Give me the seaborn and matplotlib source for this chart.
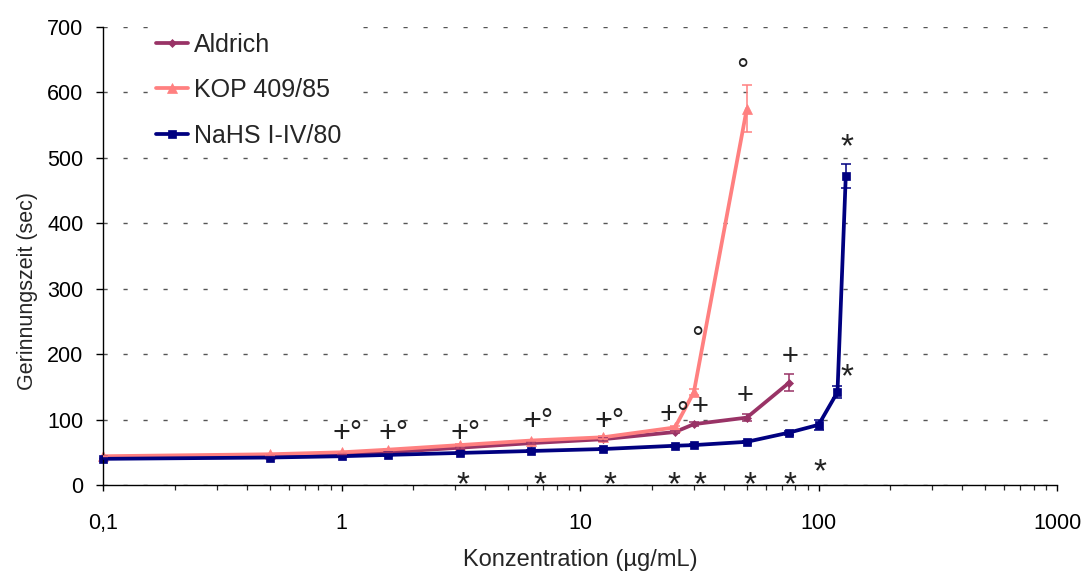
import matplotlib
matplotlib.use("Agg")
import matplotlib.pyplot as plt
from matplotlib.ticker import FixedLocator, FixedFormatter, LogLocator, NullFormatter
from matplotlib.transforms import ScaledTranslation
import pandas as pd
import seaborn as sns

# Concentrations (µg/mL), clotting times (sec) and standard errors per preparation
conc_aldrich = [0.1, 0.5, 1, 1.5625, 3.125, 6.25, 12.5, 25, 30, 50, 75]
time_aldrich = [42, 44, 47, 50, 57, 64, 70, 81, 93, 103, 156]
err_aldrich = [1, 1, 1, 1, 1.5, 1.5, 2, 2, 3, 5, 13]

conc_kop = [0.1, 0.5, 1, 1.5625, 3.125, 6.25, 12.5, 25, 30, 50]
time_kop = [44, 47, 50, 54, 61, 68, 73, 88, 142, 575]
err_kop = [1, 1, 1, 1, 1.5, 1.5, 2, 2, 4, 36]

conc_nahs = [0.1, 0.5, 1, 1.5625, 3.125, 6.25, 12.5, 25, 30, 50, 75, 100, 120, 130]
time_nahs = [40, 42, 44, 46, 49, 52, 55, 60, 61, 66, 80, 92, 142, 472]
err_nahs = [1, 1, 1, 1, 1, 1, 1.5, 1.5, 2, 2, 3, 8, 9, 18]

series_names = ["Aldrich", "KOP 409/85", "NaHS I-IV/80"]
series_colors = ["#993366", "#FF8080", "#000080"]
series_markers = ["D", "^", "s"]
series_msize = [4.5, 6.5, 6]

y_ticks = [0, 100, 200, 300, 400, 500, 600, 700]
x_ticks = [0.1, 1, 10, 100, 1000]
x_tick_labels = ["0,1", "1", "10", "100", "1000"]

# Significance marks, placed by the centre of their first sign (concentration, sec)
pair_conc = [1.0, 1.56, 3.12, 6.32, 12.55, 23.5]
pair_time = [81.5, 81, 81, 99.4, 99.4, 110]

plus_conc = [32.0, 49.4, 76.3]
plus_time = [122, 139, 199]

ring_conc = [31.1, 48.0]
ring_time = [236.2, 646.8]

star_conc = [3.23, 6.77, 13.3, 24.8, 31.7, 51.4, 75.8, 101.8, 132.1, 132.1]
star_time = [10.2, 10.2, 10.2, 10.2, 10.2, 10.2, 10.2, 29, 174.8, 526.5]

sns.set_style("ticks")
plt.rcParams["font.family"] = ["Liberation Sans", "DejaVu Sans"]

frames = []
for name, c, t in zip(series_names,
                      [conc_aldrich, conc_kop, conc_nahs],
                      [time_aldrich, time_kop, time_nahs]):
    frames.append(pd.DataFrame({"Konzentration": c, "Zeit": t, "Präparat": name}))
df = pd.concat(frames, ignore_index=True)

fig = plt.figure(figsize=(10.87, 5.71), dpi=100)
ax = fig.add_axes([0.0948, 0.1506, 0.8777, 0.8021])

sns.lineplot(data=df, x="Konzentration", y="Zeit", hue="Präparat", style="Präparat",
             hue_order=series_names, style_order=series_names,
             palette=dict(zip(series_names, series_colors)),
             markers=dict(zip(series_names, series_markers)), dashes=False,
             linewidth=2.7, markersize=6, errorbar=None, ax=ax, clip_on=False)

data_lines = list(ax.lines[:3])
for line, col, ms in zip(data_lines, series_colors, series_msize):
    line.set_markeredgecolor(col)
    line.set_markerfacecolor(col)
    line.set_markersize(ms)
    line.set_markeredgewidth(0.5)
    line.set_clip_on(False)

for c, t, e, col in zip([conc_aldrich, conc_kop, conc_nahs],
                        [time_aldrich, time_kop, time_nahs],
                        [err_aldrich, err_kop, err_nahs], series_colors):
    ax.errorbar(c, t, yerr=e, fmt="none", ecolor=col, elinewidth=1.1,
                capsize=3.5, capthick=1.1, zorder=3)


def draw_signs(sign, xs, ys, size, left_em, centre_em):
    # move the text so that its first glyph is centred on (x, y)
    shift = ScaledTranslation(-left_em * size / 72.0, -centre_em * size / 72.0,
                              fig.dpi_scale_trans)
    for xv, yv in zip(xs, ys):
        ax.text(xv, yv, sign, ha="left", va="baseline", fontsize=size,
                color="#222222", clip_on=False, transform=ax.transData + shift)


draw_signs("+°", pair_conc, pair_time, 22, 0.292, 0.34)
draw_signs("+", plus_conc, plus_time, 21, 0.292, 0.34)
draw_signs("°", ring_conc, ring_time, 22, 0.2, 0.59)
draw_signs("*", star_conc, star_time, 24, 0.195, 0.47)

ax.set_xscale("log")
ax.set_xlim(0.1, 1000)
ax.set_ylim(0, 700)
ax.xaxis.set_major_locator(FixedLocator(x_ticks))
ax.xaxis.set_major_formatter(FixedFormatter(x_tick_labels))
ax.xaxis.set_minor_locator(LogLocator(base=10, subs=range(2, 10)))
ax.xaxis.set_minor_formatter(NullFormatter())
ax.yaxis.set_major_locator(FixedLocator(y_ticks))

ax.yaxis.grid(True, linestyle=(0, (3, 11.4)), color="#555555", linewidth=1.0)
ax.xaxis.grid(False)
ax.set_axisbelow(True)

for side in ["top", "right"]:
    ax.spines[side].set_visible(False)
for side in ["left", "bottom"]:
    ax.spines[side].set_color("black")
    ax.spines[side].set_linewidth(1.0)

ax.tick_params(axis="x", which="major", direction="out", length=4.5, width=1,
               pad=16, labelsize=15.5, colors="black")
ax.tick_params(axis="x", which="minor", direction="out", length=3.5, width=0.9)
ax.tick_params(axis="y", which="major", direction="out", length=5, width=1,
               pad=9, labelsize=15.5, colors="black")

ax.set_xlabel("Konzentration (µg/mL)", fontsize=17)
ax.set_ylabel("Gerinnungszeit (sec)", fontsize=15.5)
ax.xaxis.set_label_coords(0.5, -0.14)
ax.yaxis.set_label_coords(-0.068, 0.4236)

if ax.get_legend() is not None:
    ax.get_legend().remove()
leg = ax.legend(data_lines, series_names, loc="upper left",
                bbox_to_anchor=(0.0472, 1.004), borderaxespad=0,
                fontsize=18, frameon=True, facecolor="white", edgecolor="none",
                framealpha=1, fancybox=False, borderpad=0.3,
                handlelength=1.3, handletextpad=0.25, labelspacing=0.86)
leg.set_zorder(5)

fig.savefig("out.png", dpi=100, facecolor="white")
